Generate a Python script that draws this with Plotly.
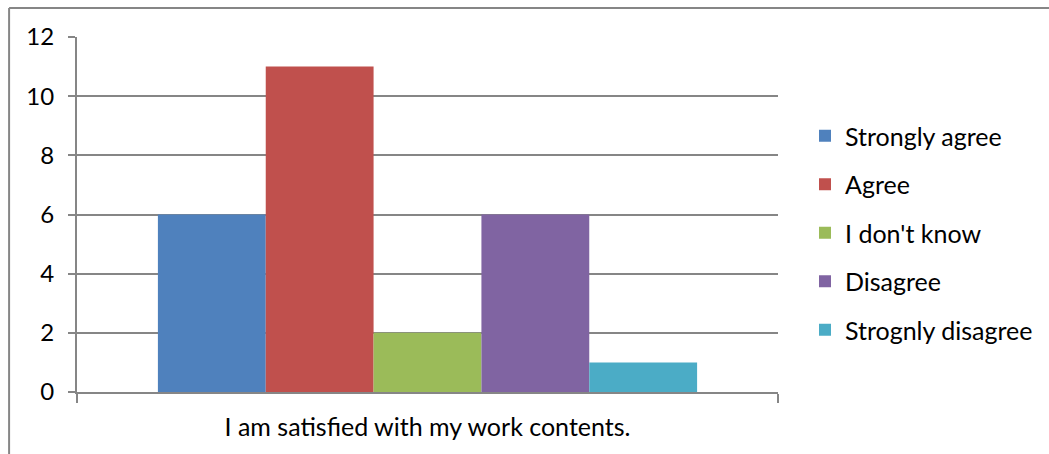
import plotly.graph_objects as go

categories = ["I am satisfied with my work contents."]
series_names = ["Strongly agree", "Agree", "I don't know", "Disagree", "Strognly disagree"]
series_values = [[6], [11], [2], [6], [1]]
colors = ["#4F81BD", "#C0504D", "#9BBB59", "#8064A2", "#4BACC6"]
y_ticks = [0, 2, 4, 6, 8, 10, 12]

W, H = 1049, 454
L, R, T, B = 77, 270, 37, 62
pw, ph = W - L - R, H - T - B

fig = go.Figure()
for i, (name, vals) in enumerate(zip(series_names, series_values)):
    fig.add_trace(go.Bar(
        x=categories, y=vals, name=name,
        marker=dict(color=colors[i], line=dict(width=0)),
        legendgroup=f"g{i}",
    ))

font = "Lato, 'Open Sans', sans-serif"
fs = 25
border = "#868686"
fig.update_layout(
    width=W, height=H,
    margin=dict(l=L, r=R, t=T, b=B, pad=0),
    barmode="group", bargap=0.2308, bargroupgap=0,
    plot_bgcolor="white", paper_bgcolor="white",
    font=dict(family=font, size=fs, color="black"),
    showlegend=True,
    legend=dict(
        x=(805 - L) / pw, xanchor="left",
        y=(H - B - 113) / ph, yanchor="top",
        font=dict(size=fs, family=font, color="black"),
        tracegroupgap=13, itemwidth=30,
        bgcolor="rgba(0,0,0,0)",
    ),
    xaxis=dict(
        type="category", showline=True, linecolor=border, linewidth=2,
        ticks="outside", tickson="boundaries", ticklen=9, tickcolor=border, tickwidth=2,
        tickfont=dict(size=fs, family=font, color="black"),
        showgrid=False, zeroline=False,
        ticklabelstandoff=12,
    ),
    yaxis=dict(
        range=[0, 12], tickvals=y_ticks, showline=True, linecolor=border, linewidth=2,
        ticks="outside", ticklen=7, tickcolor=border, tickwidth=2,
        showgrid=True, gridcolor=border, gridwidth=2, zeroline=False,
        tickfont=dict(size=fs - 1, family=font, color="black"),
        ticklabelstandoff=9,
    ),
    shapes=[
        dict(type="line", xref="paper", yref="paper",
             x0=(9 - L) / pw, x1=(W + 5 - L) / pw,
             y0=(H - B - 8) / ph, y1=(H - B - 8) / ph,
             line=dict(color=border, width=2), layer="below"),
        dict(type="line", xref="paper", yref="paper",
             x0=(9 - L) / pw, x1=(9 - L) / pw,
             y0=(H - B - 8) / ph, y1=(H - B - (H + 5)) / ph,
             line=dict(color=border, width=2), layer="below"),
    ],
)

fig.write_html("out.html")
